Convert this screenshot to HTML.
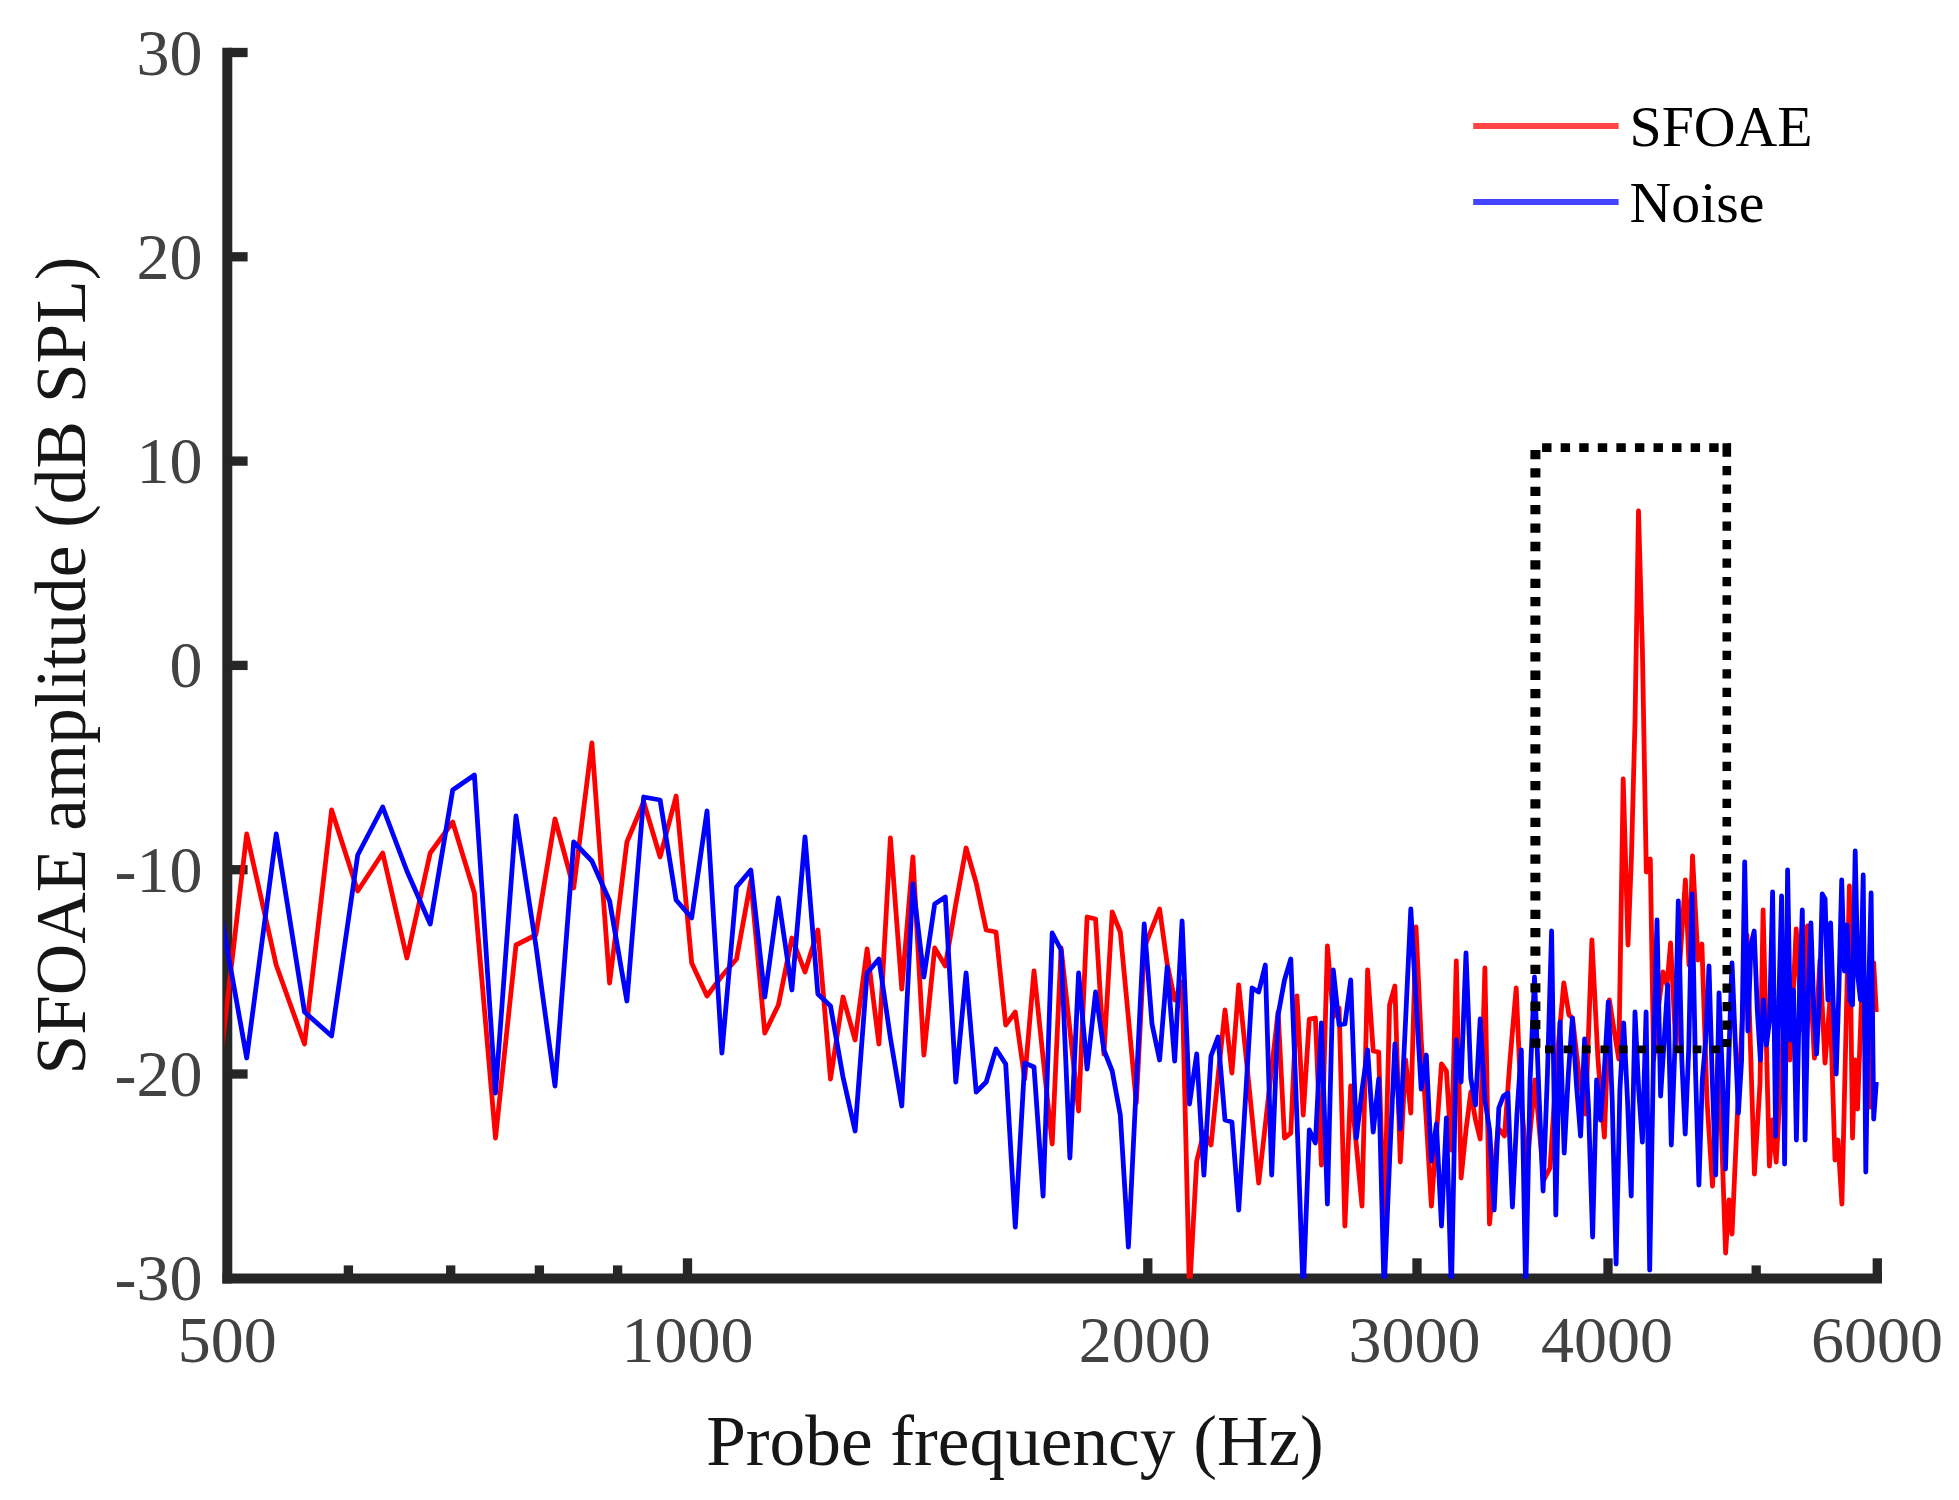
<!DOCTYPE html>
<html><head><meta charset="utf-8"><title>SFOAE</title>
<style>html,body{margin:0;padding:0;background:#fff}body{width:1959px;height:1500px;overflow:hidden}</style></head>
<body>
<svg width="1959" height="1500" viewBox="0 0 1959 1500" style="display:block">
<g>
<defs><clipPath id="cp"><rect x="224.5" y="0" width="1658" height="1278.5"/></clipPath></defs>
<rect width="1959" height="1500" fill="#fff"/>
<g stroke="#262626" stroke-width="10" fill="none" stroke-linecap="butt">
<path d="M227.3 47.7 V1283.4"/>
<path d="M222.5 1278.6 H1882"/>
</g>
<g stroke="#262626" stroke-width="9.3" fill="none">
<path d="M227.3 52.5 H247.6"/>
<path d="M227.3 256.8 H247.6"/>
<path d="M227.3 461.1 H247.6"/>
<path d="M227.3 665.4 H247.6"/>
<path d="M227.3 869.7 H247.6"/>
<path d="M227.3 1074.0 H247.6"/>
<path d="M687.5 1278.6 V1258.3"/>
<path d="M1147.8 1278.6 V1258.3"/>
<path d="M1417.0 1278.6 V1258.3"/>
<path d="M1608.0 1278.6 V1258.3"/>
<path d="M1877.3 1278.6 V1258.3"/>
<path d="M348.4 1278.6 V1265.4"/>
<path d="M450.7 1278.6 V1265.4"/>
<path d="M539.4 1278.6 V1265.4"/>
<path d="M617.6 1278.6 V1265.4"/>
<path d="M1756.2 1278.6 V1265.4"/>
</g>
<g font-family="'Liberation Serif', 'Times New Roman', serif" font-size="66" fill="#424242">
<text x="202.5" y="74.5" text-anchor="end">30</text>
<text x="202.5" y="278.8" text-anchor="end">20</text>
<text x="202.5" y="483.1" text-anchor="end">10</text>
<text x="202.5" y="687.4" text-anchor="end">0</text>
<text x="202.5" y="891.7" text-anchor="end">-10</text>
<text x="202.5" y="1096.0" text-anchor="end">-20</text>
<text x="202.5" y="1300.3" text-anchor="end">-30</text>
<text x="227.3" y="1362" text-anchor="middle">500</text>
<text x="687.5" y="1362" text-anchor="middle">1000</text>
<text x="1144.8" y="1362" text-anchor="middle">2000</text>
<text x="1414.5" y="1362" text-anchor="middle">3000</text>
<text x="1607.0" y="1362" text-anchor="middle">4000</text>
<text x="1876.9" y="1362" text-anchor="middle">6000</text>
</g>
<g font-family="'Liberation Serif', 'Times New Roman', serif" font-size="71.3" fill="#161616">
<text x="1015" y="1464.5" text-anchor="middle">Probe frequency (Hz)</text>
<text transform="translate(85,665.5) rotate(-90)" text-anchor="middle">SFOAE amplitude (dB SPL)</text>
</g>
<g clip-path="url(#cp)" fill="none" stroke-width="4.8" stroke-linejoin="round" stroke-linecap="butt">
<polyline stroke="#ff0000" points="215.8,1100.0 246.7,834.0 276.2,965.0 304.5,1044.0 331.6,810.0 357.7,891.0 382.7,853.0 406.9,958.0 430.2,853.0 452.7,822.0 474.4,893.0 495.5,1138.0 516.0,945.0 535.8,935.0 555.0,819.0 573.7,888.0 591.9,743.0 609.6,983.0 626.9,842.0 643.7,802.0 660.1,857.0 676.1,796.0 691.7,963.0 707.0,996.0 721.9,976.0 736.5,959.0 750.8,881.0 764.8,1033.0 778.4,1005.0 791.9,938.0 805.0,972.0 817.9,930.0 830.5,1079.0 843.0,997.0 855.1,1040.0 867.1,949.0 878.9,1044.0 890.4,838.0 901.8,989.0 912.9,857.0 923.9,1055.0 934.7,948.0 945.3,966.0 955.8,904.0 966.1,848.0 976.2,883.0 986.2,930.0 996.0,932.0 1005.7,1025.0 1015.3,1012.0 1024.7,1079.0 1034.0,971.0 1043.1,1058.0 1052.2,1144.0 1061.1,948.0 1069.9,1030.0 1078.6,1111.0 1087.1,917.0 1095.6,919.0 1103.9,1054.0 1112.2,912.0 1120.3,932.0 1128.4,1018.0 1136.3,1103.0 1144.2,948.0 1152.0,928.0 1159.6,909.0 1167.2,964.0 1174.7,1000.0 1182.1,982.0 1189.5,1292.0 1196.7,1161.0 1203.9,1132.0 1211.0,1145.0 1218.0,1077.0 1225.0,1010.0 1231.9,1073.0 1238.7,985.0 1245.4,1050.0 1252.1,1117.0 1258.7,1183.0 1265.3,1125.0 1271.7,1068.0 1278.1,1012.0 1284.5,1138.0 1290.8,1133.0 1297.0,996.0 1303.2,1115.0 1309.3,1019.0 1315.4,1018.0 1321.4,1165.0 1327.4,946.0 1333.3,1017.0 1339.1,1008.0 1344.9,1226.0 1350.7,1086.0 1356.4,1146.0 1362.0,1206.0 1367.6,970.0 1373.2,1051.0 1378.7,1052.0 1384.1,1228.0 1389.6,1005.0 1394.9,986.0 1400.3,1162.0 1405.6,1060.0 1410.8,1113.0 1416.0,927.0 1421.2,1040.0 1426.3,1120.0 1431.4,1206.0 1436.4,1135.0 1441.5,1064.0 1446.4,1071.0 1451.4,1150.0 1456.3,961.0 1461.1,1178.0 1466.0,1130.0 1470.8,1092.0 1475.5,1120.0 1480.2,1139.0 1484.9,968.0 1489.5,1224.0 1498.0,1128.0 1504.5,1136.0 1510.0,1060.0 1516.2,988.0 1521.0,1100.0 1527.0,1165.0 1535.0,1080.0 1543.8,1180.0 1550.0,1168.0 1557.0,1060.0 1563.8,983.0 1569.0,1015.0 1572.5,1018.0 1579.0,1075.0 1585.6,1114.0 1591.9,940.0 1598.0,1060.0 1604.4,1137.0 1609.4,1000.0 1614.0,1030.0 1618.8,1059.0 1623.2,779.0 1628.0,945.0 1631.4,858.0 1635.0,722.0 1638.5,511.0 1642.4,650.0 1646.3,872.0 1650.3,859.0 1653.6,1060.0 1658.0,1010.0 1663.0,972.0 1667.0,985.0 1670.6,943.0 1676.0,1050.0 1680.0,960.0 1685.4,880.0 1689.0,965.0 1692.5,856.0 1698.0,960.0 1701.9,944.0 1707.0,1100.0 1712.5,1186.0 1718.5,1045.0 1725.6,1253.0 1729.0,1200.0 1732.0,1234.0 1738.0,1100.0 1747.0,935.0 1754.4,1174.0 1760.0,1084.0 1763.1,910.0 1769.4,1166.0 1772.5,1120.0 1776.2,1162.0 1785.0,1000.0 1790.0,1060.0 1796.2,929.0 1802.0,1030.0 1807.5,926.0 1814.4,1058.0 1820.0,960.0 1825.0,1063.0 1830.0,1000.0 1835.0,1160.0 1838.0,1140.0 1841.9,1204.0 1849.4,886.0 1852.5,1138.0 1855.0,1060.0 1857.5,1109.0 1863.0,960.0 1870.0,1107.0 1873.7,963.0 1876.3,1012.0"/>
<polyline stroke="#0000ff" points="215.8,885.0 246.7,1058.0 276.2,834.0 304.5,1012.0 331.6,1036.0 357.7,855.0 382.7,807.0 406.9,871.0 430.2,924.0 452.7,790.0 474.4,775.0 495.5,1093.0 516.0,816.0 535.8,945.0 555.0,1086.0 573.7,842.0 591.9,861.0 609.6,901.0 626.9,1001.0 643.7,797.0 660.1,800.0 676.1,900.0 691.7,918.0 707.0,811.0 721.9,1053.0 736.5,887.0 750.8,870.0 764.8,997.0 778.4,898.0 791.9,990.0 805.0,837.0 817.9,994.0 830.5,1006.0 843.0,1077.0 855.1,1131.0 867.1,973.0 878.9,959.0 890.4,1038.0 901.8,1106.0 912.9,884.0 923.9,977.0 934.7,904.0 945.3,897.0 955.8,1082.0 966.1,973.0 976.2,1092.0 986.2,1082.0 996.0,1049.0 1005.7,1064.0 1015.3,1227.0 1024.7,1063.0 1034.0,1067.0 1043.1,1196.0 1052.2,933.0 1061.1,950.0 1069.9,1158.0 1078.6,973.0 1087.1,1069.0 1095.6,992.0 1103.9,1050.0 1112.2,1071.0 1120.3,1115.0 1128.4,1247.0 1136.3,1085.0 1144.2,924.0 1152.0,1024.0 1159.6,1060.0 1167.2,967.0 1174.7,1061.0 1182.1,921.0 1189.5,1104.0 1196.7,1054.0 1203.9,1175.0 1211.0,1056.0 1218.0,1037.0 1225.0,1120.0 1231.9,1122.0 1238.7,1210.0 1245.4,1100.0 1252.1,988.0 1258.7,992.0 1265.3,965.0 1271.7,1175.0 1278.1,1015.0 1284.5,980.0 1290.8,959.0 1297.0,1120.0 1303.2,1292.0 1309.3,1130.0 1315.4,1143.0 1321.4,1023.0 1327.4,1204.0 1333.3,970.0 1339.1,1025.0 1344.9,1024.0 1350.7,980.0 1356.4,1138.0 1362.0,1090.0 1367.6,1050.0 1373.2,1132.0 1378.7,1079.0 1384.1,1292.0 1389.6,1160.0 1394.9,1044.0 1400.3,1129.0 1405.6,1020.0 1410.8,909.0 1416.0,1000.0 1421.2,1089.0 1426.3,1055.0 1431.4,1161.0 1436.4,1124.0 1441.5,1226.0 1446.4,1118.0 1451.4,1292.0 1456.3,1040.0 1461.1,1082.0 1466.0,953.0 1470.8,1078.0 1475.5,1105.0 1480.2,1019.0 1484.9,1100.0 1489.6,1130.0 1494.2,1210.0 1498.8,1108.0 1503.4,1096.0 1507.9,1093.0 1512.4,1207.0 1516.9,1115.0 1521.3,1050.0 1525.7,1292.0 1530.1,1080.0 1534.5,977.0 1538.8,1090.0 1543.1,1191.0 1547.4,1075.0 1551.6,931.0 1555.8,1215.0 1560.0,1022.0 1564.2,1153.0 1568.3,1075.0 1572.4,1018.0 1576.5,1085.0 1580.6,1136.0 1584.6,1039.0 1588.6,1110.0 1592.6,1237.0 1596.6,1080.0 1600.5,1120.0 1604.4,1070.0 1608.3,1002.0 1612.2,1100.0 1616.1,1264.0 1619.9,1090.0 1623.7,1023.0 1627.5,1100.0 1631.2,1196.0 1635.0,1012.0 1638.7,1090.0 1642.4,1142.0 1646.1,1012.0 1649.7,1270.0 1653.4,1060.0 1657.0,920.0 1660.6,1096.0 1664.2,1040.0 1667.7,985.0 1671.3,1145.0 1674.8,1050.0 1678.3,901.0 1681.8,1060.0 1685.2,1134.0 1688.7,1050.0 1692.1,894.0 1695.5,1070.0 1698.9,1185.0 1702.3,1080.0 1705.7,1040.0 1709.0,966.0 1712.3,1080.0 1715.7,1175.0 1719.0,993.0 1722.2,1070.0 1725.5,1169.0 1728.7,1060.0 1732.0,963.0 1735.2,1040.0 1738.4,1113.0 1741.6,1060.0 1744.7,862.0 1747.9,1031.0 1751.0,944.0 1754.2,931.0 1757.3,1010.0 1760.4,1060.0 1763.4,1000.0 1766.5,1045.0 1769.6,1020.0 1772.6,892.0 1775.6,1136.0 1778.6,1010.0 1781.6,896.0 1784.6,1164.0 1787.6,870.0 1790.6,1040.0 1793.5,990.0 1796.4,1140.0 1799.3,1000.0 1802.3,910.0 1805.1,1140.0 1808.0,1000.0 1810.9,923.0 1813.8,1010.0 1816.6,1054.0 1819.4,1000.0 1822.2,894.0 1825.1,899.0 1827.9,1000.0 1830.6,923.0 1833.4,1010.0 1836.2,1074.0 1838.9,990.0 1841.7,880.0 1844.4,971.0 1847.1,925.0 1849.8,1000.0 1852.5,1005.0 1855.2,851.0 1857.9,977.0 1860.5,1000.0 1863.2,875.0 1865.8,1172.0 1868.4,1000.0 1871.1,893.0 1873.7,1119.0 1876.3,1082.0"/>
</g>
<g stroke="#000" fill="none" stroke-width="9">
<path d="M1535.4 449.9 V1052" stroke-dasharray="9.3 9.09" stroke-width="10"/>
<path d="M1542.1 447.6 H1731" stroke-dasharray="9.4 9.17" stroke-width="8.6"/>
<path d="M1726.8 443.3 V1047" stroke-dasharray="13.5 9.2 9.3 9.18 9.3 9.18 9.3 9.18 9.3 9.18 9.3 9.18 9.3 9.18 9.3 9.18 9.3 9.18 9.3 9.18 9.3 9.18 9.3 9.18 9.3 9.18 9.3 9.18 9.3 9.18 9.3 9.18 9.3 9.18 9.3 9.18 9.3 9.18 9.3 9.18 9.3 9.18 9.3 9.18 9.3 9.18 9.3 9.18 9.3 9.18 9.3 9.18 9.3 9.18 9.3 9.18 9.3 9.18 9.3 9.18 9.3 9.18 9.3 9.18 9.3 9.18 9.3 9.18" stroke-width="8.6"/>
<path d="M1545 1049.4 H1721" stroke-dasharray="8.7 9.77" stroke-width="7.8"/>
</g>
<path d="M1473.2 125.9 H1618.6" stroke="#ff4444" stroke-width="6"/>
<path d="M1473.2 201.9 H1618.6" stroke="#4444ff" stroke-width="6"/>
<g font-family="'Liberation Serif', 'Times New Roman', serif" font-size="57.8" fill="#000">
<text x="1629.5" y="145.5">SFOAE</text>
<text x="1629.5" y="222">Noise</text>
</g>
</g>
</svg>
</body></html>
